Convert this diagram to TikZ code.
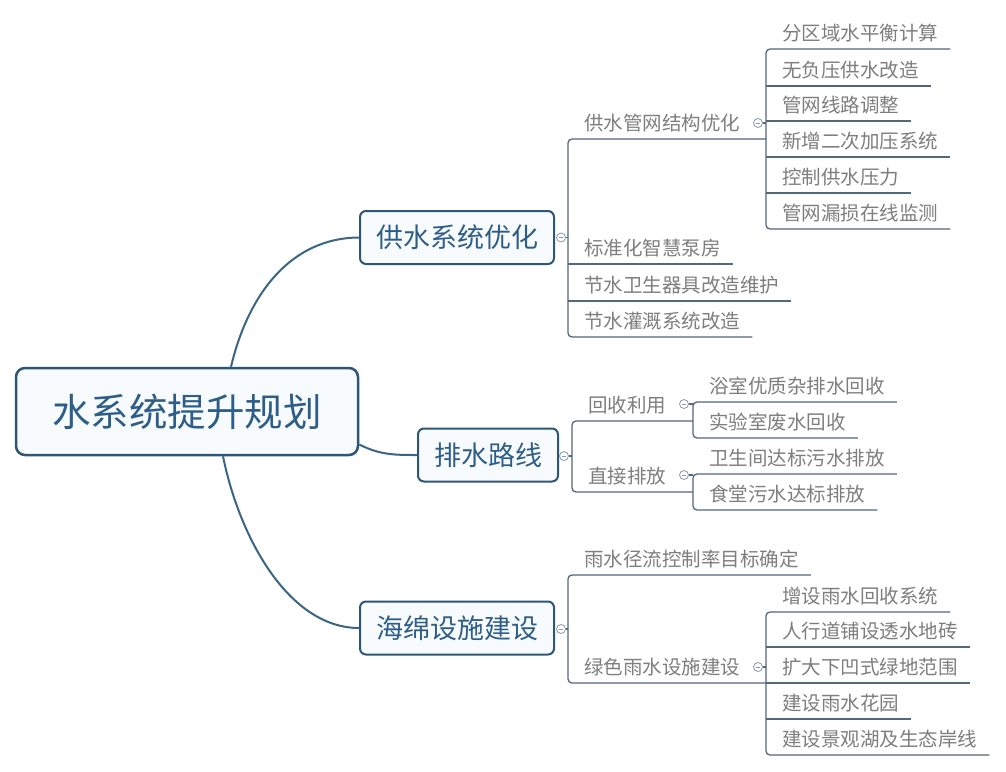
\documentclass[tikz,border=0pt]{standalone}
\usepackage{fontspec}
\newfontfamily\cjk{Noto Sans CJK SC}
\definecolor{boxc}{HTML}{2E5677}
\definecolor{boxfill}{HTML}{F8FBFD}
\definecolor{topictext}{HTML}{2E5E88}
\definecolor{connc}{HTML}{3A6585}
\definecolor{ulc}{HTML}{536878}
\definecolor{leaftext}{HTML}{7E7E7E}
\definecolor{collc}{HTML}{8A98A4}
\newcommand\leafx[1]{\hspace*{16pt}#1\hspace*{12pt}}
\begin{document}
\begin{tikzpicture}[x=1pt,y=-1pt,
  rootbox/.style={draw=boxc, line width=2.5pt, rounded corners=9pt, fill=boxfill, text=topictext,
    font=\cjk\fontsize{38.5}{40}\selectfont, minimum width=342pt, minimum height=87pt, inner sep=0pt},
  topic/.style={draw=boxc, line width=2pt, rounded corners=6pt, fill=boxfill, text=topictext,
    font=\cjk\fontsize{27}{30}\selectfont, minimum height=53pt, inner xsep=16pt, inner ysep=0pt},
  leaf/.style={anchor=south west, inner sep=0pt, text=leaftext,
    font=\cjk\fontsize{19.5}{22}\selectfont, text height=16pt, text depth=8.6pt},
  coll/.style={circle, draw=collc, line width=0.8pt, fill=white, minimum size=9pt, inner sep=0pt,
    path picture={\draw[collc, line width=0.7pt] ([xshift=-2.2pt]path picture bounding box.center) -- ([xshift=2.2pt]path picture bounding box.center);}},
  conn/.style={draw=connc, line width=2pt},
  ul/.style={draw=ulc, line width=1.3pt},
  branch/.style={ul, rounded corners=4pt}
]
\useasboundingbox[fill=white] (0,0) rectangle (1006,771);

% root and main topics
\node[rootbox] (root) at (187,411.5) {水系统提升规划};
\node[topic] (t1) at (457,237.5) {供水系统优化};
\node[topic] (t2) at (488,455) {排水路线};
\node[topic] (t3) at (457,628) {海绵设施建设};

\draw[conn] ([xshift=44pt]root.north) .. controls (248,295) and (290,238) .. (t1.west);
\draw[conn] ([yshift=-33pt]root.east) .. controls (380,455) and (395,455) .. (t2.west);
\draw[conn] ([xshift=36pt]root.south) .. controls (240,540) and (290,628) .. (t3.west);

% collapse markers of main topics
\node[coll] (c1) at (561,237.5) {};
\node[coll] (c2) at (564,456) {};
\node[coll] (c3) at (561,629) {};

% ---------- 供水系统优化 ----------
\node[leaf] (b1) at (568,139) {\leafx{供水管网结构优化}};
\node[leaf] (b2) at (568,264) {\leafx{标准化智慧泵房}};
\node[leaf] (b3) at (568,301) {\leafx{节水卫生器具改造维护}};
\node[leaf] (b4) at (568,337) {\leafx{节水灌溉系统改造}};

\node[leaf] (a1) at (766,49) {\leafx{分区域水平衡计算}};
\node[leaf] (a2) at (766,86) {\leafx{无负压供水改造}};
\node[leaf] (a3) at (766,121) {\leafx{管网线路调整}};
\node[leaf] (a4) at (766,157) {\leafx{新增二次加压系统}};
\node[leaf] (a5) at (766,193) {\leafx{控制供水压力}};
\node[leaf] (a6) at (766,229) {\leafx{管网漏损在线监测}};
\node[coll] (c11) at (758,123) {};

\draw[branch] (b1.south west -| a1.south west) -- (b1.south west) -- (b4.south west) -- (b4.south east);
\draw[ul] (b2.south west) -- (b2.south east);
\draw[ul] (b3.south west) -- (b3.south east);
\draw[ul] (c1.east) -- (c1.east -| b1.south west);

\draw[branch] (a1.south east) -- (a1.south west) -- (a6.south west) -- (a6.south east);
\foreach \n in {a2,a3,a4,a5} \draw[ul] (\n.south west) -- (\n.south east);
\draw[ul] (c11.east) -- (c11.east -| a1.south west);

% ---------- 排水路线 ----------
\node[leaf] (d1) at (572,421) {\leafx{回收利用}};
\node[leaf] (d2) at (572,492) {\leafx{直接排放}};
\node[leaf] (e1) at (693,402) {\leafx{浴室优质杂排水回收}};
\node[leaf] (e2) at (693,438) {\leafx{实验室废水回收}};
\node[leaf] (e3) at (693,474) {\leafx{卫生间达标污水排放}};
\node[leaf] (e4) at (693,510) {\leafx{食堂污水达标排放}};
\node[coll] (c21) at (684,404) {};
\node[coll] (c22) at (684,475) {};

\draw[branch] (d1.south west -| e1.south west) -- (d1.south west) -- (d2.south west) -- (d2.south west -| e3.south west);
\draw[ul] (c2.east) -- (c2.east -| d1.south west);
\draw[branch] (e1.south east) -- (e1.south west) -- (e2.south west) -- (e2.south east);
\draw[branch] (e3.south east) -- (e3.south west) -- (e4.south west) -- (e4.south east);
\draw[ul] (c21.east) -- (c21.east -| e1.south west);
\draw[ul] (c22.east) -- (c22.east -| e3.south west);

% ---------- 海绵设施建设 ----------
\node[leaf] (f1) at (568,575) {\leafx{雨水径流控制率目标确定}};
\node[leaf] (f2) at (568,683) {\leafx{绿色雨水设施建设}};
\node[leaf] (g1) at (766,612) {\leafx{增设雨水回收系统}};
\node[leaf] (g2) at (766,647) {\leafx{人行道铺设透水地砖}};
\node[leaf] (g3) at (766,683) {\leafx{扩大下凹式绿地范围}};
\node[leaf] (g4) at (766,719) {\leafx{建设雨水花园}};
\node[leaf] (g5) at (766,755) {\leafx{建设景观湖及生态岸线}};
\node[coll] (c31) at (758,667) {};

\draw[branch] (f1.south east) -- (f1.south west) -- (f2.south west) -- (f2.south west -| g1.south west);
\draw[ul] (c3.east) -- (c3.east -| f1.south west);
\draw[branch] (g1.south east) -- (g1.south west) -- (g5.south west) -- (g5.south east);
\foreach \n in {g2,g3,g4} \draw[ul] (\n.south west) -- (\n.south east);
\draw[ul] (c31.east) -- (c31.east -| g1.south west);
\end{tikzpicture}
\end{document}
